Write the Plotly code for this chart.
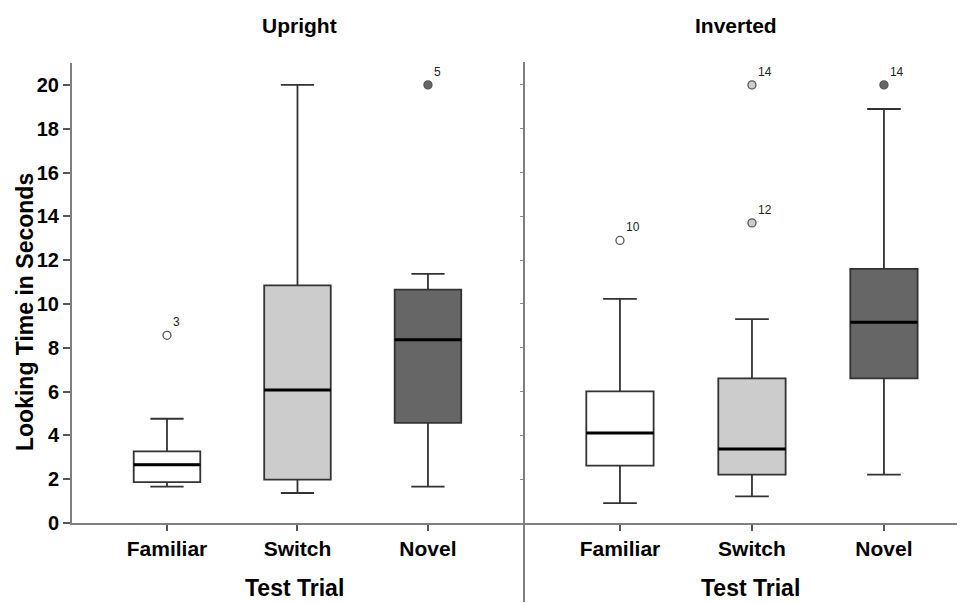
import plotly.graph_objects as go

categories = ["Familiar", "Switch", "Novel"]
panels = ["Upright", "Inverted"]
fills = ["#ffffff", "#cccccc", "#666666"]

# Upright
up_q1 = [1.87, 1.98, 4.57]
up_median = [2.66, 6.07, 8.37]
up_q3 = [3.27, 10.85, 10.65]
up_lower = [1.66, 1.37, 1.66]
up_upper = [4.76, 20.0, 11.37]
up_out_cat = [0, 2]
up_out_val = [8.57, 20.0]
up_out_lab = ["3", "5"]

# Inverted
inv_q1 = [2.62, 2.21, 6.60]
inv_median = [4.11, 3.38, 9.16]
inv_q3 = [6.01, 6.60, 11.60]
inv_lower = [0.91, 1.22, 2.21]
inv_upper = [10.23, 9.31, 18.9]
inv_out_cat = [0, 1, 1, 2]
inv_out_val = [12.9, 13.7, 20.0, 20.0]
inv_out_lab = ["10", "12", "14", "14"]

y_ticks = list(range(0, 21, 2))

FONT = "Arial, Liberation Sans, sans-serif"
LINE = "#333333"
BOXW = 0.51

# page offset of the figure (default body margin)
OFF = 8
W, H = 965 - OFF, 603 - OFF
# page-pixel geometry of the plot area
P_LEFT, P_RIGHT, P_TOP, P_BOTTOM = 72, 965, 63, 523
ML, MR, MT, MB = P_LEFT - OFF, 965 - P_RIGHT, P_TOP - OFF, 603 - P_BOTTOM
PW, PH = W - ML - MR, H - MT - MB


def px_x(p):
    return (p - P_LEFT) / PW


def px_y(p):
    return (P_BOTTOM - p) / PH


fig = go.Figure()

data = [
    (up_q1, up_median, up_q3, up_lower, up_upper, up_out_cat, up_out_val, up_out_lab, "x", "y"),
    (inv_q1, inv_median, inv_q3, inv_lower, inv_upper, inv_out_cat, inv_out_val, inv_out_lab, "x2", "y2"),
]

for q1, med, q3, lo, hi, oc, ov, ol, xa, ya in data:
    for i in range(len(categories)):
        fig.add_trace(go.Box(
            x=[i], q1=[q1[i]], median=[med[i]], q3=[q3[i]],
            lowerfence=[lo[i]], upperfence=[hi[i]],
            width=BOXW, whiskerwidth=0.5,
            fillcolor=fills[i], line=dict(color=LINE, width=1.8),
            boxpoints=False, hoverinfo="skip", showlegend=False,
            xaxis=xa, yaxis=ya,
        ))
    mx, my = [], []
    for i in range(len(categories)):
        mx += [i - BOXW / 2, i + BOXW / 2, None]
        my += [med[i], med[i], None]
    fig.add_trace(go.Scatter(x=mx, y=my, mode="lines",
                             line=dict(color="#000000", width=3),
                             showlegend=False, hoverinfo="skip",
                             xaxis=xa, yaxis=ya))
    fig.add_trace(go.Scatter(
        x=oc, y=ov, mode="markers+text", text=ol,
        textposition="top right",
        textfont=dict(family=FONT, size=12, color="#222222"),
        marker=dict(size=8, symbol="circle",
                    color=[fills[c] if c < 2 else "#666666" for c in oc],
                    line=dict(color="#555555", width=1.3)),
        showlegend=False, hoverinfo="skip", xaxis=xa, yaxis=ya,
    ))

xaxis_common = dict(
    tickmode="array", tickvals=[0, 1, 2],
    ticktext=["<b>%s</b>" % c for c in categories],
    showline=True, linecolor="#7f7f7f", linewidth=2,
    ticks="outside", ticklen=6, tickcolor="#555555", tickwidth=1.5,
    tickfont=dict(family=FONT, size=21, color="#000000"),
    showgrid=False, zeroline=False, automargin=False,
)
tick_text = ["<b>%d</b>" % v for v in y_ticks]

div_x = px_x(524)

annotations = [
    dict(text="<b>Upright</b>", x=px_x(299), y=px_y(25), xref="paper", yref="paper",
         xanchor="center", yanchor="middle", showarrow=False,
         font=dict(family=FONT, size=21, color="#000000")),
    dict(text="<b>Inverted</b>", x=px_x(736), y=px_y(25), xref="paper", yref="paper",
         xanchor="center", yanchor="middle", showarrow=False,
         font=dict(family=FONT, size=21, color="#000000")),
    dict(text="<b>Looking Time in Seconds</b>", x=px_x(25), y=px_y(312),
         xref="paper", yref="paper", textangle=-90,
         xanchor="center", yanchor="middle", showarrow=False,
         font=dict(family=FONT, size=23, color="#000000")),
    dict(text="<b>Test Trial</b>", x=px_x(294), y=px_y(588), xref="paper", yref="paper",
         xanchor="center", yanchor="middle", showarrow=False,
         font=dict(family=FONT, size=23, color="#000000")),
    dict(text="<b>Test Trial</b>", x=px_x(750), y=px_y(588), xref="paper", yref="paper",
         xanchor="center", yanchor="middle", showarrow=False,
         font=dict(family=FONT, size=23, color="#000000")),
]

fig.update_layout(
    width=W, height=H,
    margin=dict(l=ML, r=MR, t=MT, b=MB, autoexpand=False),
    paper_bgcolor="white", plot_bgcolor="white",
    font=dict(family=FONT, color="#000000"),
    xaxis=dict(domain=[0, div_x], range=[-0.728, 2.736], **xaxis_common),
    xaxis2=dict(domain=[div_x, 1], range=[-0.727, 2.614], anchor="y2", **xaxis_common),
    yaxis=dict(range=[0, 21], tickmode="array", tickvals=y_ticks, ticktext=tick_text,
               showline=True, linecolor="#7f7f7f", linewidth=2,
               ticks="outside", ticklen=7, tickcolor="#555555", tickwidth=1.5,
               tickfont=dict(family=FONT, size=20, color="#000000"),
               showgrid=False, zeroline=False, automargin=False),
    yaxis2=dict(range=[0, 21], anchor="x2", tickmode="array", tickvals=y_ticks,
                showticklabels=False, ticks="outside", ticklen=3, tickcolor="#888888",
                showline=False, showgrid=False, zeroline=False, automargin=False),
    annotations=annotations,
    shapes=[
        dict(type="line", xref="paper", yref="paper", x0=div_x, x1=div_x,
             y0=px_y(603 - OFF + OFF - 1), y1=px_y(62), line=dict(color="#7f7f7f", width=2)),
    ],
)

fig.write_html("out.html")
